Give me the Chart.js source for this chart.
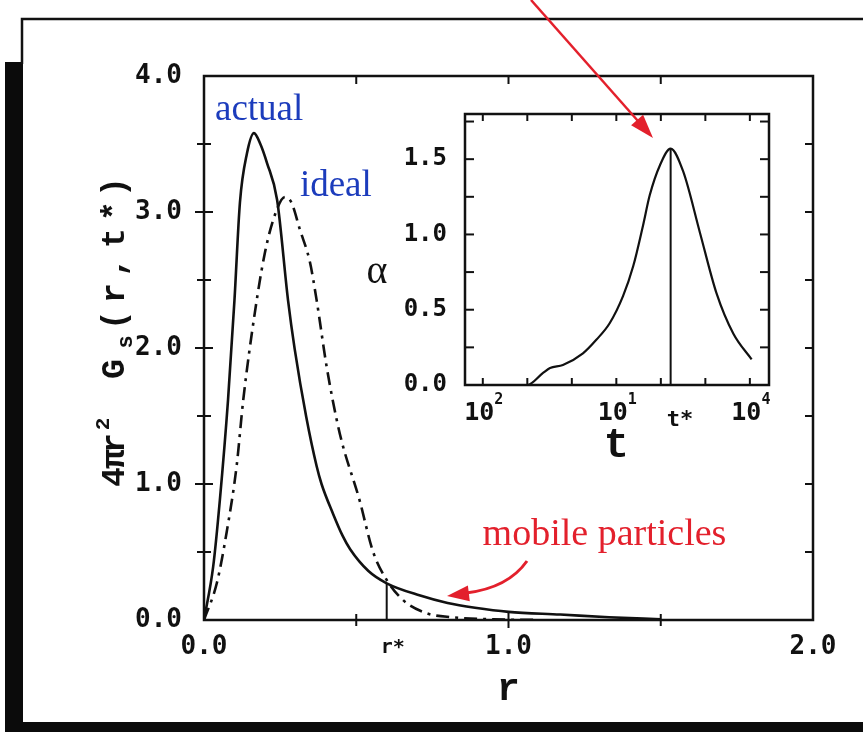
<!DOCTYPE html>
<html>
<head>
<meta charset="utf-8">
<title>Gs(r,t*) and alpha(t)</title>
<script src="https://cdn.jsdelivr.net/npm/chart.js@4.4.1/dist/chart.umd.min.js"></script>
<style>
  body { margin: 0; background: #fff; }
  #wrap { position: relative; width: 863px; height: 732px; }
  #wrap canvas { position: absolute; left: 0; top: 0; }
</style>
</head>
<body>
<div id="wrap">
  <canvas id="mainChart" width="863" height="732"></canvas>
  <canvas id="insetChart" width="863" height="732"></canvas>
</div>
<script>
// 4*pi*r^2 * Gs(r, t*) -- simulation ("actual")
const rActual = [0, 0.03, 0.052, 0.079, 0.10, 0.118, 0.141, 0.164, 0.185, 0.207, 0.24, 0.276, 0.298, 0.336, 0.37, 0.386, 0.424, 0.455, 0.48, 0.54, 0.60, 0.71, 0.80, 0.89, 1.0, 1.17, 1.33, 1.5];
const gActual = [0, 0.39, 0.88, 1.62, 2.35, 3.07, 3.43, 3.58, 3.50, 3.36, 3.09, 2.35, 1.99, 1.49, 1.13, 1.0, 0.78, 0.62, 0.52, 0.36, 0.27, 0.18, 0.125, 0.09, 0.06, 0.04, 0.02, 0.005];

// gaussian approximation ("ideal")
const rIdeal = [0, 0.042, 0.074, 0.107, 0.129, 0.167, 0.20, 0.233, 0.266, 0.287, 0.315, 0.348, 0.37, 0.403, 0.446, 0.511, 0.554, 0.593, 0.652, 0.731, 0.816, 0.95, 1.1];
const gIdeal = [0, 0.27, 0.64, 1.13, 1.62, 2.26, 2.70, 2.98, 3.11, 3.07, 2.87, 2.63, 2.35, 1.86, 1.37, 0.88, 0.51, 0.32, 0.15, 0.05, 0.02, 0.005, 0];

const rTicks = [0, 1, 2];
const rTickLabels = ['0.0', '1.0', '2.0'];
const gTicks = [0, 1, 2, 3, 4];
const gTickLabels = ['0.0', '1.0', '2.0', '3.0', '4.0'];
const rStar = 0.60;
const rStarHeight = 0.27;

// non-gaussian parameter alpha vs log10(t)
const logT = [-2.4, -1.0, -0.64, -0.49, -0.2, 0.25, 0.55, 0.85, 1.15, 1.38, 1.6, 1.75, 1.98, 2.22, 2.5, 2.88, 3.25, 3.63, 4.04];
const alpha = [0, 0, 0.082, 0.113, 0.133, 0.21, 0.30, 0.41, 0.59, 0.79, 1.06, 1.26, 1.46, 1.57, 1.42, 1.01, 0.61, 0.34, 0.17];

const tTickExp = [-2, 1, 4];
const tTickSup = ['2', '1', '4'];
const alphaTicks = [0, 0.5, 1, 1.5];
const alphaTickLabels = ['0.0', '0.5', '1.0', '1.5'];
const tStarExp = 2.22;
const alphaPeak = 1.57;

const INK = '#111';
const RED = '#e3202c';
const BLUE = '#1c3cbc';
const MONO = '"DejaVu Sans Mono", monospace';
const SERIF = '"Liberation Serif", serif';

function arrowHead(ctx, tipX, tipY, ang, len, half) {
  ctx.beginPath();
  ctx.moveTo(tipX, tipY);
  ctx.lineTo(tipX - len * Math.cos(ang) + half * Math.sin(ang), tipY - len * Math.sin(ang) - half * Math.cos(ang));
  ctx.lineTo(tipX - len * Math.cos(ang) - half * Math.sin(ang), tipY - len * Math.sin(ang) + half * Math.cos(ang));
  ctx.closePath();
  ctx.fill();
}

function tick(ctx, x1, y1, x2, y2) {
  ctx.beginPath();
  ctx.moveTo(x1, y1);
  ctx.lineTo(x2, y2);
  ctx.stroke();
}

const mainDecor = {
  id: 'mainDecor',
  beforeDraw(chart) {
    const ctx = chart.ctx;
    ctx.save();
    ctx.fillStyle = '#fff';
    ctx.fillRect(0, 0, chart.width, chart.height);
    // box with a dark drop shadow on left and bottom
    ctx.fillStyle = '#0b0b0b';
    ctx.fillRect(5, 62, 18, 670);
    ctx.fillRect(5, 722, 858, 10);
    ctx.strokeStyle = INK;
    ctx.lineWidth = 2.5;
    ctx.beginPath();
    ctx.moveTo(22, 64);
    ctx.lineTo(22, 19);
    ctx.lineTo(863, 19);
    ctx.stroke();
    ctx.restore();
  },
  afterDraw(chart) {
    const { ctx, chartArea: a } = chart;
    const xs = chart.scales.x, ys = chart.scales.y;
    ctx.save();
    ctx.strokeStyle = INK;
    ctx.lineWidth = 2.5;
    ctx.strokeRect(a.left, a.top, a.right - a.left, a.bottom - a.top);

    ctx.lineWidth = 2;
    for (let v = 0.5; v < 4; v += 0.5) {
      const py = ys.getPixelForValue(v);
      const len = Number.isInteger(v) ? 9 : 7;
      tick(ctx, a.left - len, py, a.left + len, py);
      tick(ctx, a.right - 8, py, a.right, py);
    }
    for (let v = 0.5; v < 2; v += 0.5) {
      const px = xs.getPixelForValue(v);
      const len = Number.isInteger(v) ? 8 : 6;
      tick(ctx, px, a.bottom - len, px, a.bottom + len);
      tick(ctx, px, a.top, px, a.top + 8);
    }

    // r* marker
    const rx = xs.getPixelForValue(rStar);
    tick(ctx, rx, ys.getPixelForValue(0), rx, ys.getPixelForValue(rStarHeight));
    ctx.fillStyle = INK;
    ctx.font = 'bold 20px ' + MONO;
    ctx.textAlign = 'left';
    ctx.textBaseline = 'alphabetic';
    ctx.fillText('r*', rx - 6, 653);

    // axis titles
    ctx.font = 'bold 38px "Liberation Mono", monospace';
    ctx.textAlign = 'center';
    ctx.fillText('r', xs.getPixelForValue(1), 700);

    // y title, laid out glyph by glyph along the rotated baseline
    const parts = [
      ['4', 477, 0, 33], ['π', 459, 0, 33], ['r', 443, 0, 33], ['2', 424, -15, 21],
      ['G', 369, 0, 33], ['s', 342, 8, 22], ['(', 320, 0, 33], ['r', 293, 0, 33],
      [',', 267, 0, 33], ['t', 238, 0, 33], ['*', 211, 0, 33], [')', 187, 0, 33]
    ];
    ctx.translate(124, 0);
    ctx.rotate(-Math.PI / 2);
    parts.forEach(([ch, cy, shift, size]) => {
      ctx.font = 'bold ' + size + 'px "Liberation Mono", monospace';
      ctx.fillText(ch, -cy, shift);
    });
    ctx.setTransform(1, 0, 0, 1, 0, 0);

    // curve names
    ctx.font = '37px ' + SERIF;
    ctx.textAlign = 'left';
    ctx.fillStyle = BLUE;
    ctx.fillText('actual', xs.getPixelForValue(0.036), ys.getPixelForValue(3.68));
    ctx.fillText('ideal', xs.getPixelForValue(0.315), ys.getPixelForValue(3.12));
    ctx.fillStyle = RED;
    ctx.font = '38px ' + SERIF;
    ctx.fillText('mobile particles', xs.getPixelForValue(0.915), ys.getPixelForValue(0.55));

    // curved pointer to the tail
    ctx.strokeStyle = RED;
    ctx.lineWidth = 3;
    ctx.beginPath();
    ctx.moveTo(527, 561);
    ctx.quadraticCurveTo(508, 588, 466, 593);
    ctx.stroke();
    arrowHead(ctx, 447, 596, Math.atan2(5, -42), 22, 8);
    ctx.restore();
  }
};

new Chart(document.getElementById('mainChart'), {
  type: 'scatter',
  data: {
    datasets: [
      {
        label: 'actual',
        data: rActual.map((r, i) => ({ x: r, y: gActual[i] })),
        showLine: true,
        borderColor: INK,
        borderWidth: 2.6,
        pointRadius: 0,
        cubicInterpolationMode: 'monotone'
      },
      {
        label: 'ideal',
        data: rIdeal.map((r, i) => ({ x: r, y: gIdeal[i] })),
        showLine: true,
        borderColor: INK,
        borderWidth: 2.6,
        borderDash: [13, 6, 3, 6],
        pointRadius: 0,
        cubicInterpolationMode: 'monotone'
      }
    ]
  },
  options: {
    responsive: false,
    animation: false,
    layout: { padding: { left: 0, top: 76, right: 50, bottom: 0 } },
    plugins: { legend: { display: false }, tooltip: { enabled: false } },
    scales: {
      x: {
        type: 'linear', min: 0, max: 2,
        afterBuildTicks: s => { s.ticks = rTicks.map(v => ({ value: v })); },
        afterFit: s => { s.height = 112; },
        ticks: {
          callback: (v, i) => rTickLabels[i],
          font: { family: MONO, weight: 'bold', size: 26 },
          color: INK, padding: 12, maxRotation: 0, autoSkip: false
        },
        grid: { display: false, drawTicks: false },
        border: { display: false }
      },
      y: {
        type: 'linear', min: 0, max: 4,
        afterBuildTicks: s => { s.ticks = gTicks.map(v => ({ value: v })); },
        afterFit: s => { s.width = 204; },
        ticks: {
          callback: (v, i) => gTickLabels[i],
          font: { family: MONO, weight: 'bold', size: 26 },
          color: INK, padding: 22, autoSkip: false
        },
        grid: { display: false, drawTicks: false },
        border: { display: false }
      }
    }
  },
  plugins: [mainDecor]
});

const insetDecor = {
  id: 'insetDecor',
  afterDraw(chart) {
    const { ctx, chartArea: a } = chart;
    const xs = chart.scales.x, ys = chart.scales.y;
    ctx.save();
    ctx.strokeStyle = INK;
    ctx.lineWidth = 2.5;
    ctx.strokeRect(a.left, a.top, a.right - a.left, a.bottom - a.top);

    ctx.lineWidth = 2;
    for (let v = 0.25; v < 1.8; v += 0.25) {
      const py = ys.getPixelForValue(v);
      tick(ctx, a.left, py, a.left + 9, py);
      tick(ctx, a.right - 9, py, a.right, py);
    }
    for (let e = -2; e <= 4; e++) {
      const px = xs.getPixelForValue(Math.pow(10, e));
      tick(ctx, px, a.bottom, px, a.bottom - 7);
      tick(ctx, px, a.top, px, a.top + 7);
    }

    // t* marker at the peak
    const tx = xs.getPixelForValue(Math.pow(10, tStarExp));
    tick(ctx, tx, ys.getPixelForValue(0), tx, ys.getPixelForValue(alphaPeak));

    // decade labels with superscript exponents
    ctx.fillStyle = INK;
    ctx.textBaseline = 'alphabetic';
    tTickExp.forEach((e, i) => {
      const px = xs.getPixelForValue(Math.pow(10, e));
      ctx.font = 'bold 25px ' + MONO;
      const w1 = ctx.measureText('10').width;
      ctx.font = 'bold 15px ' + MONO;
      const w2 = ctx.measureText(tTickSup[i]).width;
      const left = px - (w1 + w2) / 2 + 1;
      ctx.font = 'bold 25px ' + MONO;
      ctx.textAlign = 'left';
      ctx.fillText('10', left, 420);
      ctx.font = 'bold 15px ' + MONO;
      ctx.fillText(tTickSup[i], left + w1, 404);
    });

    ctx.font = 'bold 22px ' + MONO;
    ctx.fillText('t*', tx - 4, 426);

    ctx.font = 'bold 42px "Liberation Mono", monospace';
    ctx.textAlign = 'center';
    ctx.fillText('t', xs.getPixelForValue(10), 457);

    ctx.font = '40px ' + SERIF;
    ctx.fillText('α', 377, 283);

    // pointer from above down to the peak
    ctx.strokeStyle = RED;
    ctx.fillStyle = RED;
    ctx.lineWidth = 2.5;
    const ang = Math.atan2(138, 122);
    tick(ctx, 531, 0, 653 - 18 * Math.cos(ang), 138 - 18 * Math.sin(ang));
    arrowHead(ctx, 653, 138, ang, 24, 8);
    ctx.restore();
  }
};

new Chart(document.getElementById('insetChart'), {
  type: 'scatter',
  data: {
    datasets: [{
      label: 'alpha',
      data: logT.map((e, i) => ({ x: Math.pow(10, e), y: alpha[i] })),
      showLine: true,
      borderColor: INK,
      borderWidth: 2.2,
      pointRadius: 0,
      cubicInterpolationMode: 'monotone'
    }]
  },
  options: {
    responsive: false,
    animation: false,
    layout: { padding: { left: 340, top: 114, right: 94, bottom: 272 } },
    plugins: { legend: { display: false }, tooltip: { enabled: false } },
    scales: {
      x: {
        type: 'logarithmic', min: Math.pow(10, -2.4), max: Math.pow(10, 4.43),
        afterFit: s => { s.height = 75; },
        ticks: { display: false },
        grid: { display: false, drawTicks: false },
        border: { display: false }
      },
      y: {
        type: 'linear', min: 0, max: 1.8,
        afterBuildTicks: s => { s.ticks = alphaTicks.map(v => ({ value: v })); },
        afterFit: s => { s.width = 125; },
        ticks: {
          callback: (v, i) => alphaTickLabels[i],
          font: { family: MONO, weight: 'bold', size: 24 },
          color: INK, padding: 18, autoSkip: false
        },
        grid: { display: false, drawTicks: false },
        border: { display: false }
      }
    }
  },
  plugins: [insetDecor]
});
</script>
</body>
</html>
